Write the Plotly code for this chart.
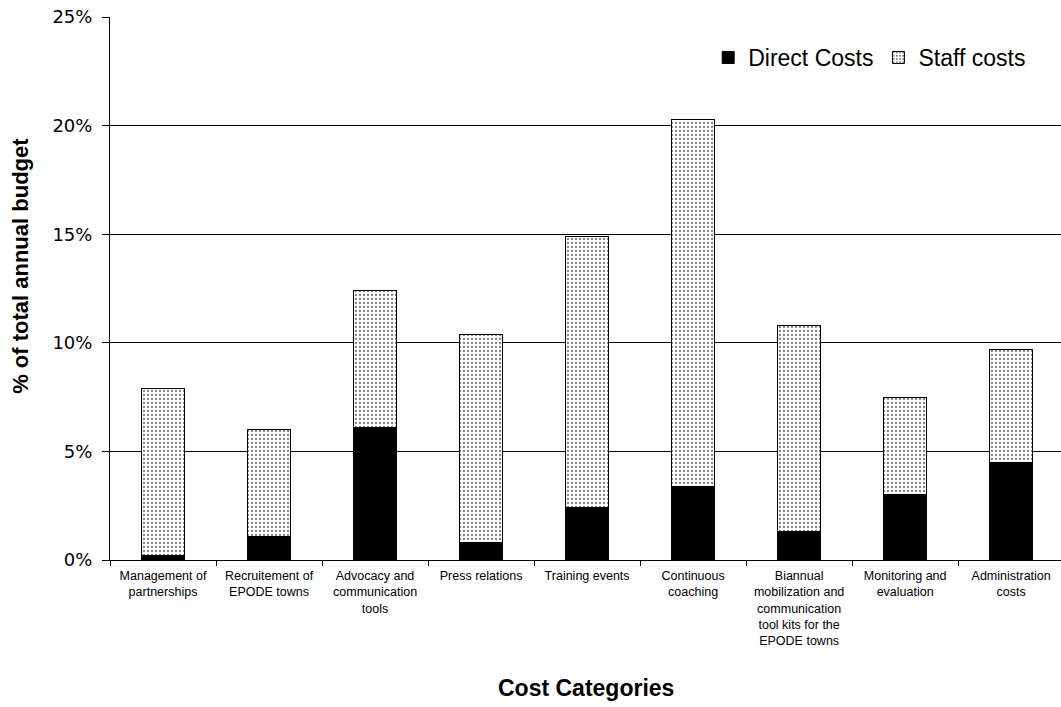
import plotly.graph_objects as go

categories = [
    "Management of<br>partnerships",
    "Recruitement of<br>EPODE towns",
    "Advocacy and<br>communication<br>tools",
    "Press relations",
    "Training events",
    "Continuous<br>coaching",
    "Biannual<br>mobilization and<br>communication<br>tool kits for the<br>EPODE towns",
    "Monitoring and<br>evaluation",
    "Administration<br>costs",
]
direct_costs = [0.2, 1.1, 6.1, 0.8, 2.4, 3.4, 1.3, 3.0, 4.5]
staff_costs = [7.7, 4.9, 6.3, 9.6, 12.5, 16.9, 9.5, 4.5, 5.2]
y_ticks = [0, 5, 10, 15, 20, 25]
y_ticklabels = ["0%", "5%", "10%", "15%", "20%", "25%"]

fig = go.Figure()
fig.add_trace(go.Bar(
    x=categories, y=direct_costs, name="Direct Costs",
    marker=dict(color="black", line=dict(color="black", width=1)),
    width=0.41,
))
fig.add_trace(go.Bar(
    x=categories, y=staff_costs, name="Staff costs",
    marker=dict(color="white", line=dict(color="black", width=1),
                pattern=dict(shape=".", fgcolor="black", bgcolor="white",
                             size=4, solidity=0.25)),
    width=0.41,
))

fig.update_layout(
    barmode="stack",
    width=1061, height=707,
    margin=dict(l=110, r=0, t=17, b=147),
    paper_bgcolor="white", plot_bgcolor="white",
    font=dict(family="Liberation Sans, Arial", color="black"),
    showlegend=True,
    legend=dict(orientation="h", x=0.629, y=0.965, xanchor="left", yanchor="top",
                font=dict(size=23, family="Liberation Sans, Arial"),
                itemwidth=30, traceorder="normal", bgcolor="rgba(0,0,0,0)"),
    bargap=0.6,
)
fig.update_xaxes(
    range=[-0.5, 8.47],
    showline=True, linecolor="black", linewidth=1,
    ticks="outside", tickson="boundaries", ticklen=5, tickcolor="black",
    tickfont=dict(size=12.5, family="Liberation Sans, Arial"),
    ticklabelstandoff=4,
    tickangle=0,
    showgrid=False,
)
fig.update_yaxes(
    range=[0, 25], tickvals=y_ticks, ticktext=y_ticklabels,
    showline=True, linecolor="black", linewidth=1,
    ticks="outside", ticklen=7, tickcolor="black",
    ticklabelstandoff=6,
    tickfont=dict(size=18, family="DejaVu Sans, Verdana"),
    showgrid=True, gridcolor="black", gridwidth=1,
    zeroline=False,
)
fig.add_annotation(text="<b>% of total annual budget</b>", xref="paper", yref="paper",
                   x=-0.094, y=0.541, xanchor="center", yanchor="middle", textangle=-90,
                   showarrow=False, font=dict(size=22, family="Liberation Sans, Arial"))
fig.add_annotation(text="<b>Cost Categories</b>", xref="paper", yref="paper",
                   x=0.5, y=-0.236, xanchor="center", yanchor="middle",
                   showarrow=False, font=dict(size=23, family="Liberation Sans, Arial"))

fig.write_html("out.html")
